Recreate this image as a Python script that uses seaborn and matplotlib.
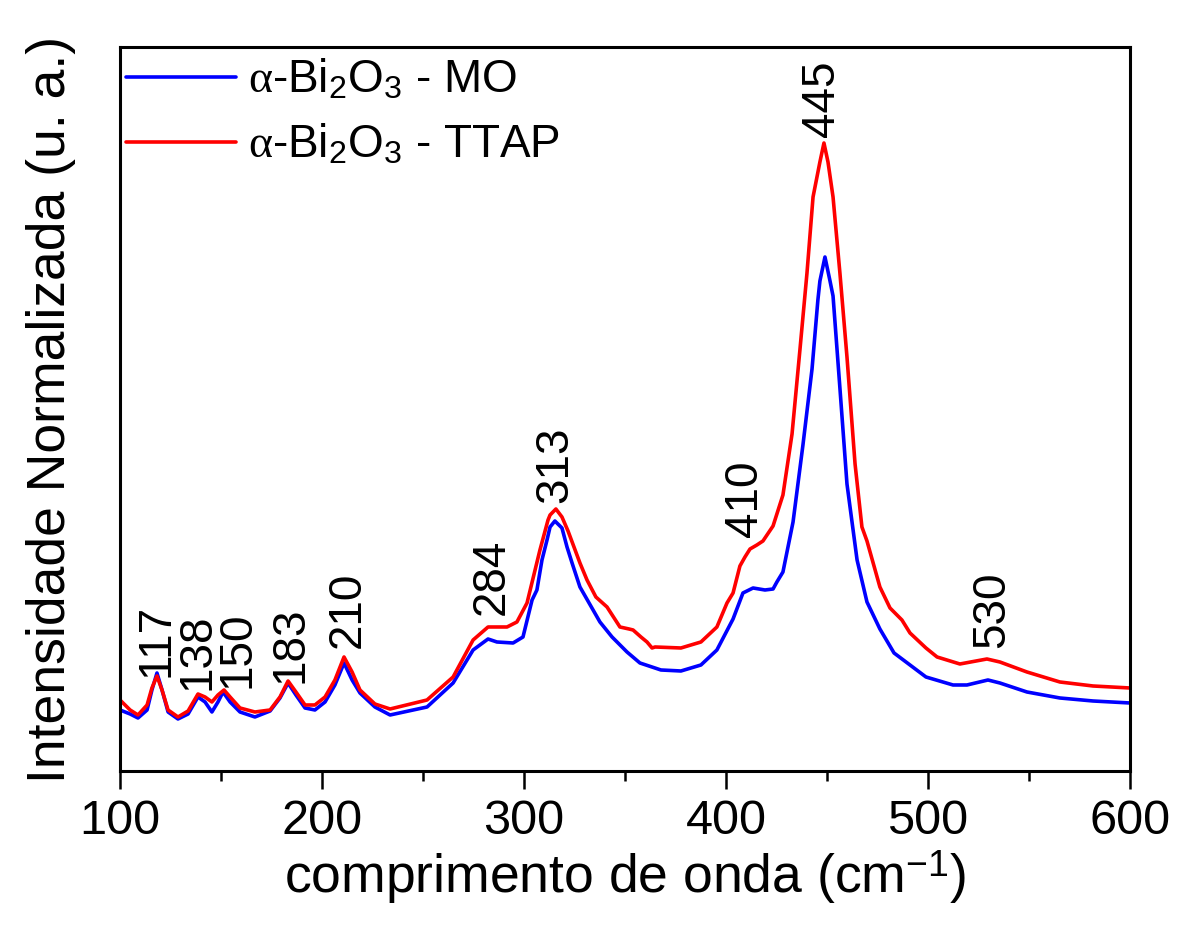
import numpy as np
import pandas as pd
import matplotlib
matplotlib.use("Agg")
import matplotlib.pyplot as plt
import seaborn as sns
from matplotlib.ticker import MultipleLocator

# ---------------- data ----------------
x_mo = [100.0, 105.0, 108.9, 113.4, 115.8, 118.3, 120.8, 123.8, 128.7, 133.7,
        138.6, 142.1, 145.5, 148.5, 151.0, 154.5, 159.4, 166.8, 174.3, 179.2,
        183.2, 187.1, 191.6, 196.5, 201.5, 206.4, 210.9, 214.9, 218.8, 226.2,
        233.7, 252.0, 264.9, 274.8, 282.2, 286.6, 294.6, 299.5, 304.0, 306.4,
        308.9, 311.4, 312.9, 315.3, 318.8, 321.3, 323.8, 327.7, 337.6, 343.6,
        351.0, 357.4, 367.8, 377.7, 387.6, 395.5, 403.5, 408.4, 413.4, 419.3,
        423.3, 425.2, 428.2, 433.2, 438.1, 442.6, 445.5, 446.5, 449.0, 451.5,
        453.0, 456.4, 459.9, 464.9, 469.8, 476.2, 483.2, 499.0, 512.4, 519.3,
        529.7, 535.6, 549.0, 565.3, 581.7, 600.0]
y_mo = [61, 57, 53, 61, 81, 98, 81, 59, 52, 57,
        74, 69, 59, 69, 79, 69, 59, 54, 60, 73,
        88, 76, 63, 61, 69, 86, 108, 91, 78, 64,
        56, 64, 88, 121, 132, 129, 128, 134, 171, 181,
        211, 231, 244, 250, 243, 224, 208, 184, 149, 134,
        119, 108, 101, 100, 106, 121, 152, 178, 183, 181,
        182, 189, 199, 249, 326, 402, 471, 490, 514, 490,
        475, 383, 287, 211, 169, 142, 118, 94, 86, 86,
        91, 88, 79, 73, 70, 68]

x_ttap = [100.0, 105.0, 108.9, 113.4, 115.8, 118.3, 120.8, 123.8, 128.7, 133.7,
          138.6, 142.1, 145.5, 148.5, 151.5, 154.5, 159.4, 166.8, 174.3, 179.2,
          183.2, 187.1, 191.6, 196.5, 201.5, 206.4, 210.9, 214.9, 218.8, 226.2,
          233.7, 252.0, 264.9, 274.8, 282.2, 291.6, 296.5, 301.5, 307.9, 311.9,
          312.9, 315.8, 318.8, 321.8, 327.7, 331.2, 335.6, 341.1, 347.5, 352.0,
          354.0, 357.9, 360.9, 363.4, 364.9, 377.7, 387.6, 395.5, 400.5, 403.5,
          406.9, 409.4, 411.9, 415.3, 418.3, 423.3, 428.2, 432.7, 436.6, 440.1,
          443.1, 446.5, 448.5, 450.5, 453.0, 456.4, 459.9, 463.9, 467.3, 469.8,
          476.2, 481.2, 487.1, 491.1, 499.0, 504.5, 515.8, 529.2, 535.6, 549.0,
          565.3, 581.7, 600.0]
y_ttap = [71, 61, 56, 66, 83, 95, 81, 61, 54, 60,
          77, 74, 69, 76, 81, 74, 63, 59, 61, 74,
          90, 79, 66, 66, 74, 91, 114, 99, 81, 67,
          62, 71, 94, 131, 144, 144, 149, 168, 221, 251,
          256, 262, 254, 240, 208, 191, 174, 164, 144, 142,
          141, 134, 129, 123, 124, 123, 129, 144, 168, 178,
          205, 214, 222, 226, 230, 245, 276, 337, 421, 498,
          574, 609, 628, 609, 574, 498, 414, 307, 244, 230,
          184, 163, 151, 138, 123, 114, 107, 112, 109, 99,
          89, 85, 83]

series_names = [r"$\alpha$-Bi$_2$O$_3$ - MO", r"$\alpha$-Bi$_2$O$_3$ - TTAP"]
series_colors = ["#0000FF", "#FF0000"]

peak_labels = ["117", "138", "150", "183", "210", "284", "313", "410", "445", "530"]
# annotation placement (x centre, bottom y of rotated text)
label_x = [118.0, 138.2, 158.4, 184.2, 212.9, 284.2, 315.3, 409.4, 447.5, 531.7]
label_y = [94, 81, 83, 88, 123, 156, 268, 234, 634, 123]

x_ticks = [100, 200, 300, 400, 500, 600]

# ---------------- styling ----------------
sns.set_theme(style="ticks")
plt.rcParams["font.family"] = ["Liberation Sans", "DejaVu Sans"]
plt.rcParams["mathtext.fontset"] = "custom"
plt.rcParams["mathtext.rm"] = "Liberation Sans"
plt.rcParams["mathtext.it"] = "Liberation Serif"
plt.rcParams["mathtext.bf"] = "Liberation Sans:bold"
for k in ["text.color", "axes.labelcolor", "xtick.color", "ytick.color", "axes.edgecolor"]:
    plt.rcParams[k] = "black"

df = pd.concat([
    pd.DataFrame({"x": x_mo, "y": y_mo, "amostra": series_names[0]}),
    pd.DataFrame({"x": x_ttap, "y": y_ttap, "amostra": series_names[1]}),
], ignore_index=True)

fig = plt.figure(figsize=(11.8, 9.25), dpi=100)
ax = fig.add_axes([0.1017, 0.1665, 0.8559, 0.7827])

sns.lineplot(data=df, x="x", y="y", hue="amostra", hue_order=series_names,
             palette=series_colors, estimator=None, sort=False,
             linewidth=2.6, ax=ax, legend=True,
             solid_joinstyle="round", solid_capstyle="round")

ax.set_xlim(100, 600)
ax.set_ylim(0, 724)
ax.set_xticks(x_ticks)
ax.xaxis.set_minor_locator(MultipleLocator(50))
ax.set_yticks([])

for s in ax.spines.values():
    s.set_visible(True)
    s.set_linewidth(2.2)
    s.set_color("black")

ax.tick_params(axis="x", which="major", direction="out", length=13, width=1.8,
               labelsize=35, pad=7, colors="black")
ax.tick_params(axis="x", which="minor", direction="out", length=7, width=1.8,
               colors="black")

ax.set_xlabel("comprimento de onda (cm$^{-1}$)", fontsize=38.5, labelpad=3)
ax.set_ylabel("Intensidade Normalizada (u. a.)", fontsize=38.5, labelpad=32)

for t, lx, ly in zip(peak_labels, label_x, label_y):
    ax.text(lx, ly, t, rotation=90, ha="center", va="bottom", fontsize=33,
            color="black")

handles, labels = ax.get_legend_handles_labels()
ax.legend(handles, labels, loc="upper left", bbox_to_anchor=(-0.005, 1.0),
          frameon=False, fontsize=33, handlelength=2.4, handletextpad=0.25,
          labelspacing=0.45, borderaxespad=0.0, borderpad=0.25)

fig.savefig("out.png", dpi=100, facecolor="white")
